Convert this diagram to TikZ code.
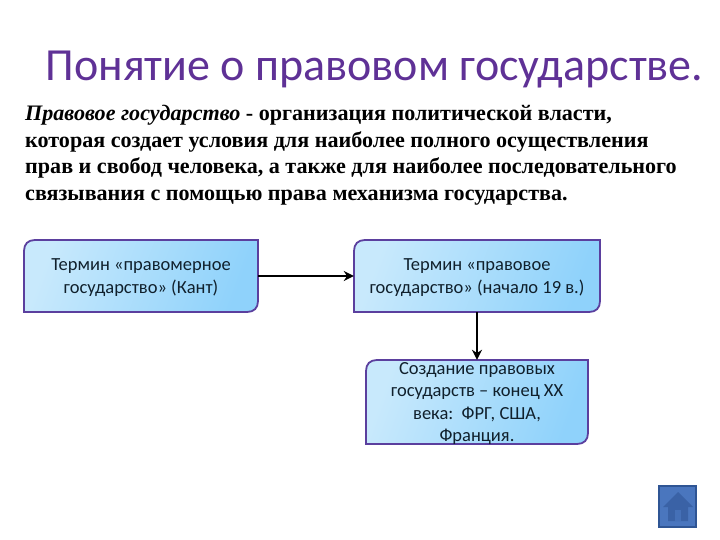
\documentclass[tikz,border=0pt]{standalone}
\usepackage{fontspec}
\setmainfont{Carlito}
\newfontfamily\bodyfont{Liberation Serif}
\usetikzlibrary{arrows.meta}
\definecolor{titlecol}{HTML}{5F3196}
\definecolor{edgecol}{HTML}{5B3F9E}
\definecolor{lightfill}{HTML}{C8E9FC}
\definecolor{deepfill}{HTML}{8FD2FB}
\definecolor{textcol}{HTML}{10202C}
\definecolor{homefill}{HTML}{4A76BE}
\definecolor{homeedge}{HTML}{2F5594}
\definecolor{homedark}{HTML}{3A62A6}
\tikzset{
  boxshape/.style={draw=edgecol,line width=1.8pt,left color=lightfill,right color=deepfill,shading angle=70},
  boxlabel/.style={font=\fontsize{18.5}{22.3}\selectfont,text=textcol,align=center,inner sep=0pt},
  link/.style={draw=black,line width=2.4pt,-{Stealth[length=10pt,width=10pt]}},
}
\newcommand{\dbox}[6]{%
  \path[boxshape] (#2+11,#3) -- (#4,#3) -- (#4,#5-11) .. controls (#4,#5-4) and (#4-4,#5) .. (#4-11,#5) -- (#2,#5) -- (#2,#3+11) .. controls (#2,#3+4) and (#2+4,#3) .. (#2+11,#3) -- cycle;
  \node[boxlabel,minimum width=#4pt-#2pt,minimum height=#5pt-#3pt] (#1) at ({(#2+#4)/2},{(#3+#5)/2+1.5}) {#6};
}
\begin{document}
\begin{tikzpicture}[x=1pt,y=-1pt]
\useasboundingbox (0,0) rectangle (720,540);
\node[text=titlecol,font=\fontsize{46}{50}\selectfont,inner sep=0pt,anchor=base] (title) at (374.5,81) {Понятие о правовом государстве.};
\node[anchor=north west,inner sep=0pt,align=left,font=\bodyfont\bfseries\fontsize{22.1}{26.5}\selectfont,text=black] (body) at (25,105)
{{\itshape Правовое государство} - организация политической власти,\\
которая создает условия для наиболее полного осуществления\\
прав и свобод человека, а также для наиболее последовательного\\
связывания с помощью права механизма государства.};
\dbox{kant}{24}{240}{258}{312}{Термин «правомерное\\государство» (Кант)}
\dbox{rule}{354}{240}{600}{312}{Термин «правовое\\государство» (начало 19 в.)}
\dbox{made}{366}{360}{588}{444}{Создание правовых\\государств – конец ХХ\\века:\ \ ФРГ, США,\\Франция.}
\draw[link] ([yshift=1.5pt]kant.east) -- ([yshift=1.5pt]rule.west);
\draw[link] ([yshift=1.5pt]rule.south) -- ([yshift=1.5pt]made.north);
\node[draw=homeedge,fill=homefill,line width=2.5pt,minimum width=37pt,minimum height=41pt,inner sep=0pt] (home) at (677.5,506.5) {};
\fill[homedark] (663,507) -- (678,492) -- (693,507) -- (688,507) -- (688,521) -- (668,521) -- (668,507) -- cycle;
\fill[homefill!70!homedark] (675,510) rectangle (681,521);
\end{tikzpicture}
\end{document}
